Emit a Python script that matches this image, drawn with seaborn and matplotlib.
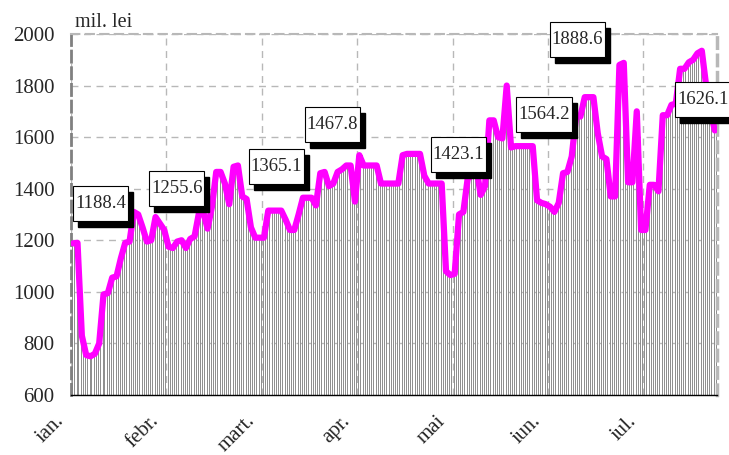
import numpy as np
import pandas as pd
import seaborn as sns
import matplotlib.pyplot as plt
from matplotlib.patches import Rectangle
from matplotlib.transforms import ScaledTranslation

months = ["ian.", "febr.", "mart.", "apr.", "mai", "iun.", "iul."]
days_per_month = 22

# daily values, mil. lei
values = [
    1188, 1190, 830, 755, 750, 760, 800, 990, 995, 1055,
    1060, 1130, 1190, 1195, 1310, 1300, 1250, 1195, 1200, 1290,
    1265, 1240, 1175, 1170, 1195, 1200, 1170, 1205, 1215, 1305,
    1310, 1245, 1330, 1465, 1465, 1420, 1340, 1485, 1490, 1370,
    1360, 1250, 1210, 1210, 1210, 1315, 1315, 1315, 1315, 1280,
    1240, 1240, 1300, 1365, 1365, 1365, 1335, 1460, 1465, 1410,
    1420, 1465, 1475, 1490, 1490, 1350, 1530, 1490, 1490, 1490,
    1490, 1420, 1420, 1420, 1420, 1420, 1530, 1535, 1535, 1535,
    1535, 1450, 1420, 1420, 1420, 1420, 1080, 1065, 1070, 1300,
    1310, 1440, 1450, 1480, 1376, 1410, 1665, 1665, 1600, 1595,
    1800, 1560, 1565, 1565, 1565, 1565, 1565, 1355, 1345, 1340,
    1330, 1310, 1345, 1460, 1465, 1525, 1680, 1680, 1755, 1755,
    1755, 1615, 1525, 1515, 1370, 1370, 1880, 1888, 1425, 1425,
    1700, 1240, 1240, 1415, 1415, 1390, 1685, 1685, 1725, 1730,
    1865, 1865, 1890, 1900, 1925, 1935, 1800, 1700, 1626,
]

callouts = ["1188.4", "1255.6", "1365.1", "1467.8", "1423.1", "1564.2", "1888.6", "1626.1"]
# box centres (bar index, value)
callout_pos = [(6.3, 1343), (23.9, 1399), (46.9, 1487), (59.8, 1650),
               (88.9, 1533), (108.6, 1689), (116.3, 1980), (145.2, 1747)]

sns.set_style("white")
plt.rcParams["font.family"] = ["Liberation Serif", "DejaVu Serif"]

df = pd.DataFrame({"day": np.arange(len(values)), "value": values})

fig = plt.figure(figsize=(7.29, 4.55), dpi=100)
ax = fig.add_axes([0.0974, 0.1319, 0.8861, 0.7934])

sns.barplot(data=df, x="day", y="value", color="white", width=0.45,
            edgecolor="#8c8c8c", linewidth=0.7, errorbar=None, ax=ax)
sns.lineplot(data=df, x="day", y="value", color="#ff00ff", linewidth=4.5,
             solid_joinstyle="round", solid_capstyle="round", ax=ax, zorder=4)

n = len(values)
ax.set_xlim(-0.5, n - 0.5)
ax.set_ylim(600, 2000)
ax.set_xlabel("")
ax.set_ylabel("")

# axis ticks
bounds = [days_per_month * k - 0.5 for k in range(len(months))]
ax.set_xticks(bounds)
ax.set_xticklabels(months, rotation=45, ha="right", va="top",
                   rotation_mode="anchor", fontsize=15)
ax.tick_params(axis="x", direction="out", length=5, width=1, color="black", pad=7)
ax.set_yticks(range(600, 2001, 200))
ax.tick_params(axis="y", direction="out", length=5, width=1, color="black",
               labelsize=15, pad=7)
# month names sit a bit left of their tick
shift = ScaledTranslation(-12 / 72, 0, fig.dpi_scale_trans)
for lab in ax.get_xticklabels():
    lab.set_transform(lab.get_transform() + shift)

# grid
ax.set_axisbelow(True)
ax.grid(True, color="#b8b8b8", linestyle=(0, (5, 4)), linewidth=1)

# frame
ax.spines["left"].set(color="#808080", linewidth=2, linestyle=(0, (4, 2)))
ax.spines["bottom"].set(color="black", linewidth=1, linestyle=(0, (2, 1)))
ax.spines["top"].set(color="#b8b8b8", linewidth=1.5, linestyle=(0, (4, 3)))
ax.spines["right"].set(color="#b8b8b8", linewidth=2.5, linestyle=(0, (3, 2)))

# callout boxes with shadow
bw, bh = 12.7, 136
sdx, sdy = 1.15, 23
for txt, (cx, cy) in zip(callouts, callout_pos):
    ax.add_patch(Rectangle((cx - bw / 2 + sdx, cy - bh / 2 - sdy), bw, bh,
                           facecolor="black", edgecolor="black", zorder=6, clip_on=False))
    ax.add_patch(Rectangle((cx - bw / 2, cy - bh / 2), bw, bh,
                           facecolor="white", edgecolor="black", linewidth=0.8,
                           zorder=7, clip_on=False))
    ax.text(cx, cy, txt, ha="center", va="center", fontsize=13.5, zorder=8)

ax.text(7.1, 2043, "mil. lei", ha="center", va="center", fontsize=14.5, clip_on=False)

fig.savefig("out.png", dpi=100)
